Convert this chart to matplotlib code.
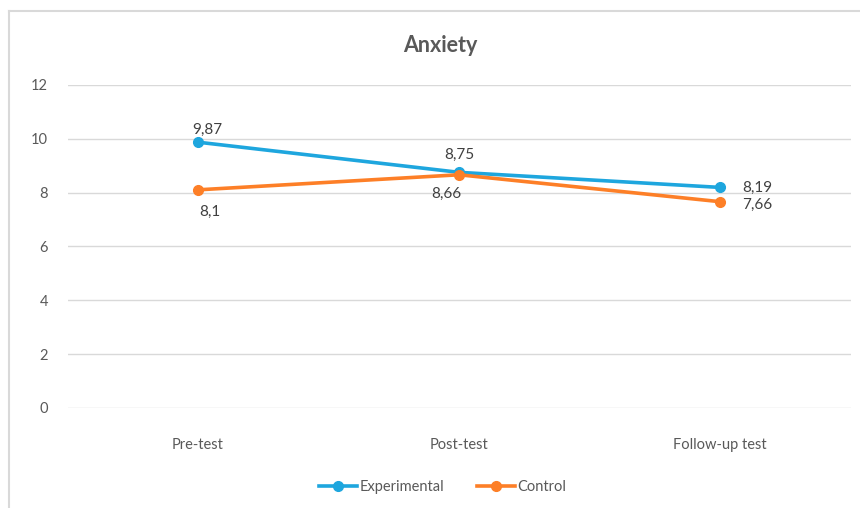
import matplotlib.pyplot as plt
from matplotlib.lines import Line2D

# data
phases = ["Pre-test", "Post-test", "Follow-up test"]
experimental = [9.87, 8.75, 8.19]
control = [8.1, 8.66, 7.66]
exp_labels = ["9,87", "8,75", "8,19"]
ctrl_labels = ["8,1", "8,66", "7,66"]

blue = "#1ea6de"
orange = "#fd7f27"
grey_text = "#595959"

plt.rcParams["font.family"] = ["Lato", "DejaVu Sans"]

fig = plt.figure(figsize=(8.6, 5.08), dpi=100)
ax = fig.add_axes([0.0785, 0.197, 0.9105, 0.636])

# frame: only the top and left edges show
fx, fy = 8.5 / 860, 1 - 10.5 / 508
fig.lines.append(Line2D([fx, fx], [0, fy], transform=fig.transFigure, color="#d9d9d9", linewidth=1.5))
fig.lines.append(Line2D([fx, 1], [fy, fy], transform=fig.transFigure, color="#d9d9d9", linewidth=1.5))

x = list(range(len(phases)))
ax.plot(x, experimental, color=blue, linewidth=2.6, marker="o", markersize=7,
        label="Experimental", zorder=3)
ax.plot(x, control, color=orange, linewidth=2.6, marker="o", markersize=7,
        label="Control", zorder=3)

# value labels
exp_off = [(9, 12, "center"), (0, 17, "center"), (22, 0, "left")]
ctrl_off = [(12, -22, "center"), (-13, -19, "center"), (22, -3, "left")]
for i in x:
    dx, dy, ha = exp_off[i]
    ax.annotate(exp_labels[i], (i, experimental[i]), xytext=(dx, dy), textcoords="offset pixels",
                ha=ha, va="center", fontsize=11, color="#404040")
    dx, dy, ha = ctrl_off[i]
    ax.annotate(ctrl_labels[i], (i, control[i]), xytext=(dx, dy), textcoords="offset pixels",
                ha=ha, va="center", fontsize=11, color="#404040")

ax.set_xlim(-0.5, 2.5)
ax.set_ylim(0, 12)
ax.set_yticks(range(0, 13, 2))
ax.set_xticks(x)
ax.set_xticklabels(phases)
ax.grid(axis="y", color="#d9d9d9", linewidth=1)
ax.set_axisbelow(True)
for s in ax.spines.values():
    s.set_visible(False)
ax.tick_params(length=0, colors=grey_text, labelsize=10.5)
ax.tick_params(axis="x", pad=22)
ax.tick_params(axis="y", pad=14)

fig.text(0.512, 0.91, "Anxiety", ha="center", va="center", fontsize=15.5,
         fontweight="bold", color=grey_text)

fig.legend(loc="center", bbox_to_anchor=(0.515, 0.041), ncol=2, frameon=False,
           fontsize=10.5, labelcolor=grey_text, handlelength=2.6, handletextpad=0.2,
           columnspacing=2.2)

plt.savefig("out.png", dpi=100)
